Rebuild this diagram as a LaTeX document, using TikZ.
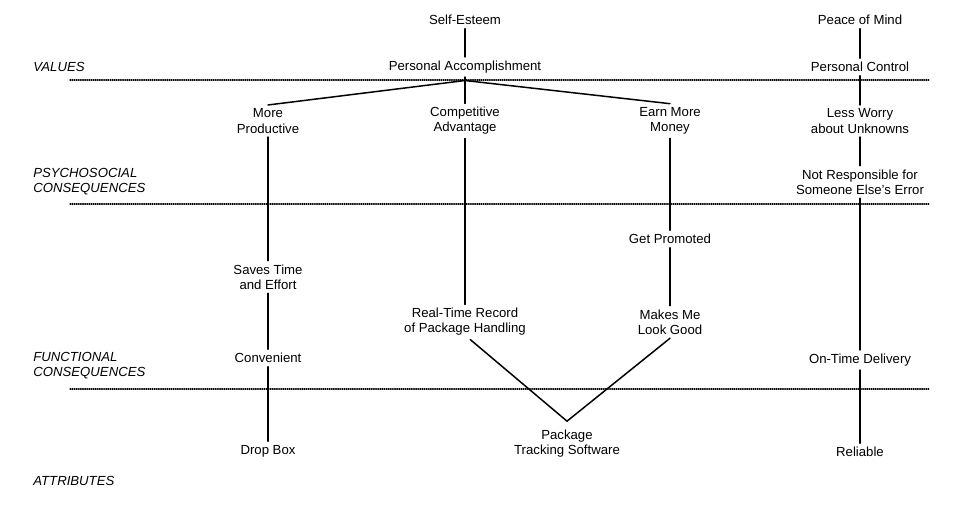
\documentclass[tikz,border=0pt]{standalone}
\usepackage{fontspec}
\setmainfont{Liberation Sans}
\usetikzlibrary{positioning}

\begin{document}
\begin{tikzpicture}[line cap=round,line join=round,x=0.02cm,y=-0.02cm,
  concept/.style={font=\fontsize{7.5}{8.6}\selectfont,align=center,inner sep=2pt},
  level/.style={font=\fontsize{7.5}{8.6}\selectfont\itshape,align=left,anchor=west,inner sep=0pt},
  link/.style={line width=0.85pt},
  divider/.style={line width=0.7pt,dash pattern=on 0.4pt off 0.8pt}]
\useasboundingbox (0,0) rectangle (953,507);
\draw [divider] (70,80) -- (930,80);
\draw [divider] (70,204) -- (930,204);
\draw [divider] (70,389) -- (930,389);
\node [level] (values) at (33,67) {VALUES};
\node [level] (psycho) at (33,182) {PSYCHOSOCIAL\\CONSEQUENCES};
\node [level] (funct) at (33,366) {FUNCTIONAL\\CONSEQUENCES};
\node [level] (attr) at (33,481) {ATTRIBUTES};
\node [concept] (se) at (465,20) {Self-Esteem};
\node [concept] (pa) at (465,67) {Personal Accomplishment};
\node [concept] (mp) at (268,121) {More\\Productive};
\node [concept] (ca) at (465,121) {Competitive\\Advantage};
\node [concept] (em) at (670,121) {Earn More\\Money};
\node [concept] (gp) at (670,239) {Get Promoted};
\node [concept] (stf) at (268,277) {Saves Time\\and Effort};
\node [concept] (rt) at (465,322) {Real-Time Record\\of Package Handling};
\node [concept] (mm) at (670,322) {Makes Me\\Look Good};
\node [concept] (cv) at (268,358) {Convenient};
\node [concept] (db) at (268,451) {Drop Box};
\node [concept,inner ysep=5pt] (pts) at (567,444) {Package\\Tracking Software};
\node [concept] (pm) at (860,20) {Peace of Mind};
\node [concept] (pc) at (860,67) {Personal Control};
\node [concept] (lw) at (860,121) {Less Worry\\about Unknowns};
\node [concept] (nr) at (860,182) {Not Responsible for\\Someone Else's Error};
\node [concept] (otd) at (860,360) {On-Time Delivery};
\node [concept] (rel) at (860,452) {Reliable};
\draw [link] (se) -- (pa);
\draw [link] ([yshift=-2pt]pa.south) -- (mp.north);
\draw [link] (pa.south) -- (ca.north);
\draw [link] ([yshift=-2pt]pa.south) -- (em.north);
\draw [link] (mp) -- (stf);
\draw [link] (stf) -- (cv);
\draw [link] (cv) -- (db);
\draw [link] (ca) -- (rt);
\draw [link] (em) -- (gp);
\draw [link] (gp) -- (mm);
\draw [link] ([xshift=3pt]rt.south) -- (pts.north);
\draw [link] (mm.south) -- (pts.north);
\draw [link] (pm) -- (pc);
\draw [link] (pc) -- (lw);
\draw [link] (lw) -- (nr);
\draw [link] (nr) -- (otd);
\draw [link] (otd) -- (rel);
\end{tikzpicture}
\end{document}
